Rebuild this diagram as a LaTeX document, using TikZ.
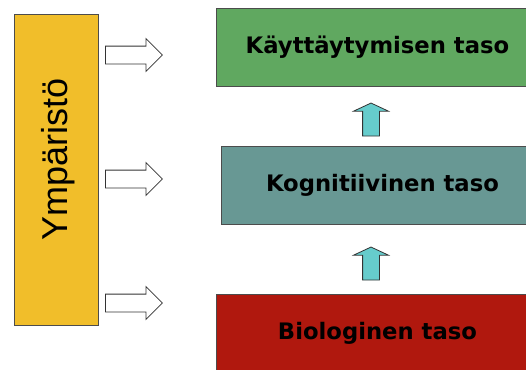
\documentclass[tikz,border=0pt]{standalone}
\usepackage{fontspec}
\setmainfont{DejaVu Sans}
\newfontfamily\envfont{Liberation Sans}
\definecolor{envyellow}{RGB}{241,190,42}
\definecolor{behavgreen}{RGB}{96,168,96}
\definecolor{cogngray}{RGB}{104,152,148}
\definecolor{biored}{RGB}{176,24,14}
\definecolor{arrowcyan}{RGB}{102,204,204}
\usetikzlibrary{shapes.arrows,positioning}

\begin{document}
\begin{tikzpicture}[x=1pt, y=-1pt,
    level/.style={rectangle, draw=black!70, line width=0.9pt, anchor=north west,
                  minimum width=322pt, minimum height=78pt, inner sep=0pt,
                  font=\fontsize{22.7}{26}\selectfont\bfseries},
    envarrow/.style={single arrow, draw=black!80, fill=white, line width=0.8pt,
                     minimum height=57pt, minimum width=32pt, inner xsep=0pt,
                     inner ysep=8.5pt, single arrow head extend=7.5pt, anchor=tail},
    uparrow/.style={single arrow, draw=black!80, fill=arrowcyan, line width=0.8pt,
                    shape border rotate=90, minimum height=33pt, minimum width=34pt,
                    inner sep=8pt, single arrow head extend=9pt,
                    single arrow tip angle=130}
  ]
    \useasboundingbox (0,0) rectangle (526,369);
    \clip (0,0) rectangle (526,369);

    % Environment
    \node[rectangle, draw=black!70, line width=0.9pt, fill=envyellow, anchor=north west,
          minimum width=84pt, minimum height=311pt, inner sep=0pt] (env) at (14,14) {};
    \node[rotate=90, font=\envfont\fontsize{36}{40}\selectfont] (envlabel)
      at ([xshift=2pt, yshift=10pt]env.center) {Ympäristö};

    % Levels
    \node[level, fill=behavgreen] (behav) at (216,8) {Käyttäytymisen taso};
    \node[level, fill=cogngray] (cogn) at (221,146) {Kognitiivinen taso};
    \node[level, fill=biored] (bio) at (216,294) {Biologinen taso};

    % Environment affects every level
    \node[envarrow] (envtobehav) at (105,55) {};
    \node[envarrow] (envtocogn) at (105,179) {};
    \node[envarrow] (envtobio) at (105,303) {};

    % Upward arrows
    \node[uparrow] (biotocogn) at (371,265.5) {};
    \node[uparrow] (cogntobehav) at (371,121.5) {};
  \end{tikzpicture}
\end{document}
